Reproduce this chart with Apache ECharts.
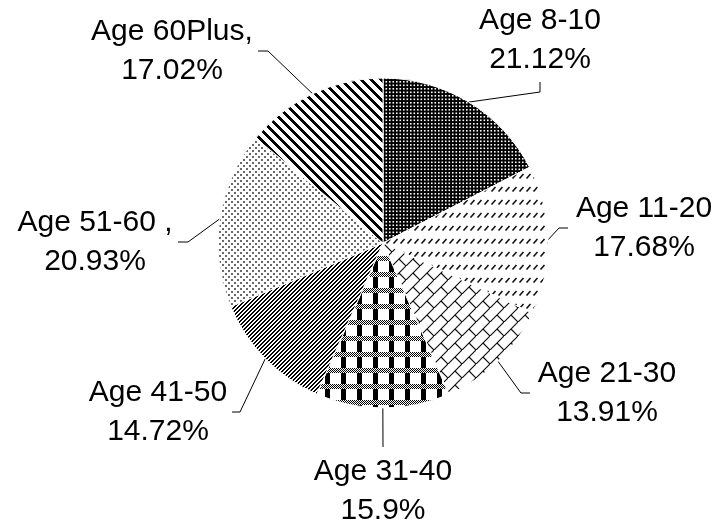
<!DOCTYPE html>
<html><head><meta charset="utf-8">
<script src="https://cdn.jsdelivr.net/npm/echarts@6/dist/echarts.min.js"></script>
<style>html,body{margin:0;padding:0;background:#fff}#c{width:720px;height:529px}</style>
</head><body><div id="c"></div>
<script>
// ---- data ----
const categories = ['Age 8-10', 'Age 11-20', 'Age 21-30', 'Age 31-40', 'Age 41-50', 'Age 51-60 ,', 'Age 60Plus,'];
const values = [21.12, 17.68, 13.91, 15.9, 14.72, 20.93, 17.02];

// ---- layout (label block centres and leader-line bends) ----
const labelLayoutPos = [
  { x: 540, y: 40,  bend: [540, 92],  end: [540, 82] },
  { x: 644, y: 228, bend: [559, 228], end: [568, 228] },
  { x: 607, y: 393, bend: [521, 393], end: [530, 393] },
  { x: 383, y: 491, bend: [383, 447], end: [383, 447] },
  { x: 158, y: 412, bend: [240, 412], end: [232, 412] },
  { x: 95,  y: 242, bend: [188, 242], end: [178, 242] },
  { x: 172, y: 51,  bend: [268, 51],  end: [258, 51] }
];
const CX = 383, CY = 243, R = 165;

// ---- pattern tiles ----
function pix(w, h, fn) {
  const c = document.createElement('canvas'); c.width = w; c.height = h;
  const g = c.getContext('2d'); const img = g.createImageData(w, h);
  for (let y = 0; y < h; y++) for (let x = 0; x < w; x++) {
    const v = fn(x, y); const i = (y * w + x) * 4;
    img.data[i] = img.data[i + 1] = img.data[i + 2] = v; img.data[i + 3] = 255;
  }
  g.putImageData(img, 0, 0); return c;
}
function draw(w, h, fn, bg) {
  const c = document.createElement('canvas'); c.width = w; c.height = h;
  const g = c.getContext('2d'); g.fillStyle = bg || '#fff'; g.fillRect(0, 0, w, h); fn(g); return c;
}
const patterns = [
  // 8-10 dark with fine white dots
  draw(7, 7, g => { g.fillStyle = '#fff';
    [[0.5, 0.5], [4, 0.5], [0.5, 4], [4, 4]].forEach(p => g.fillRect(p[0], p[1], 1.6, 1.6)); }, '#000'),
  // 11-20 rows of short slashes
  draw(7, 13, g => { g.strokeStyle = '#111'; g.lineWidth = 1.6; g.beginPath(); g.moveTo(1.5, 9.5); g.lineTo(5.5, 5); g.stroke(); }),
  // 21-30 diagonal brick
  draw(14, 14, g => { g.strokeStyle = '#111'; g.lineWidth = 1.2; g.beginPath();
    g.moveTo(-1, 15); g.lineTo(15, -1); g.moveTo(7, 7); g.lineTo(15, 15); g.stroke(); }),
  // 31-40 checker bands + black blocks
  pix(16, 16, (x, y) => {
    if (y < 5) return ((x + y) % 2 === 0) ? 0 : 255;
    if (x >= 5 && x < 10) return 0;
    return 255;
  }),
  // 41-50 dense upward diagonal
  pix(4, 4, (x, y) => ((x + y) % 4 < 2) ? 0 : 255),
  // 51-60 sparse dots
  draw(6, 6, g => { g.fillStyle = '#222'; g.beginPath(); g.arc(1, 1, 0.9, 0, Math.PI * 2); g.arc(4, 4, 0.9, 0, Math.PI * 2); g.fill(); }),
  // 60Plus wide downward diagonal
  pix(10, 10, (x, y) => (((x - y) % 10 + 10) % 10 < 4) ? 0 : 255)
];

const total = values.reduce((a, b) => a + b, 0);
function edgePoint(i) {
  let before = 0; for (let k = 0; k < i; k++) before += values[k];
  const a = (before + values[i] / 2) / total * Math.PI * 2;
  return [CX + R * Math.sin(a), CY - R * Math.cos(a)];
}

const chart = echarts.init(document.getElementById('c'), null, { renderer: 'canvas' });
chart.setOption({
  backgroundColor: '#fff',
  animation: false,
  series: [{
    type: 'pie',
    center: [CX, CY],
    radius: R,
    startAngle: 90,
    clockwise: true,
    avoidLabelOverlap: false,
    data: categories.map((n, i) => ({
      name: n, value: values[i],
      itemStyle: { color: { image: patterns[i], repeat: 'repeat' } }
    })),
    itemStyle: { borderColor: '#fff', borderWidth: 1 },
    label: {
      show: true, position: 'outside',
      formatter: p => p.name + '\n' + p.value + '%',
      fontFamily: 'Liberation Sans, Arial, sans-serif',
      fontSize: 30, lineHeight: 39, color: '#000', align: 'center'
    },
    labelLine: { show: true, length: 10, length2: 10, lineStyle: { color: '#000', width: 1 } },
    labelLayout: function (params) {
      const i = params.dataIndex; const L = labelLayoutPos[i];
      const start = edgePoint(i);
      return {
        x: L.x, y: L.y, align: 'center', verticalAlign: 'middle',
        labelLinePoints: [start, L.bend, L.end]
      };
    },
    emphasis: { disabled: true }
  }]
});
</script></body></html>
